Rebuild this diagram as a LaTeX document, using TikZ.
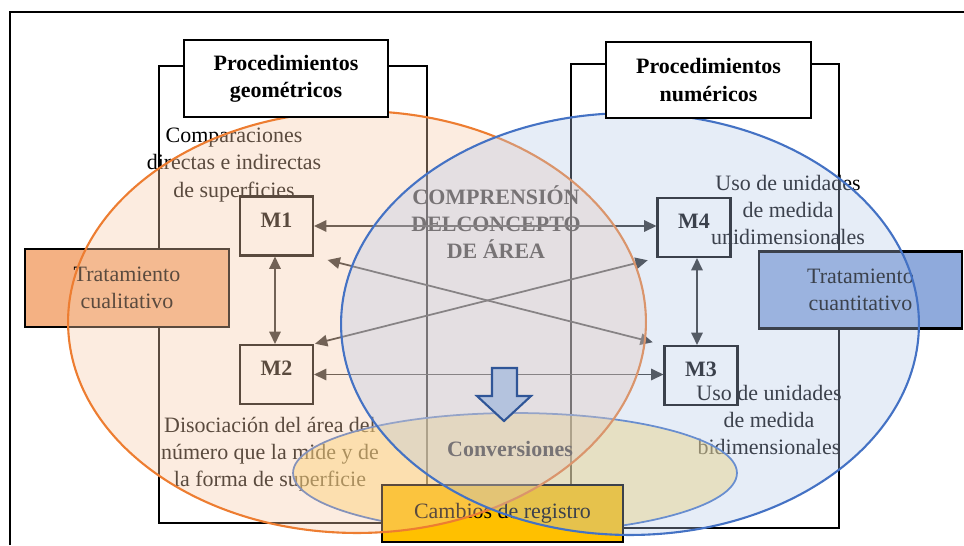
\documentclass[tikz,border=0pt]{standalone}
\usepackage{fontspec}
\setmainfont{Liberation Serif}
\usepackage{xcolor}
\usepackage{tikz}
\usetikzlibrary{arrows.meta}
\definecolor{CQLine}{HTML}{ED7D31}
\definecolor{CQFill}{HTML}{F6CBAA}
\definecolor{CQBox}{HTML}{F4B183}
\definecolor{CNLine}{HTML}{4472C4}
\definecolor{CNFill}{HTML}{B4C7E7}
\definecolor{CNBox}{HTML}{8FAADC}
\definecolor{CVFill}{HTML}{FFD966}
\definecolor{CRBox}{HTML}{FFC000}
\definecolor{BlockFill}{HTML}{B4C3DE}
\definecolor{BlockLine}{HTML}{2F5597}
\definecolor{LinkGray}{HTML}{262626}

\tikzset{
  txt/.style={font=\fontsize{12.5}{15.5}\selectfont,align=center,inner sep=0pt},
  bold/.style={txt,font=\fontsize{12.5}{15.5}\selectfont\bfseries},
  tbox/.style={draw=black,line width=1.2pt,inner sep=0pt,txt},
  mbox/.style={tbox,bold,minimum width=1.46cm,minimum height=1.18cm,text depth=0.25cm},
  link/.style={draw=LinkGray,line width=1pt,{Triangle[length=7pt,width=6.5pt]}-{Triangle[length=7pt,width=6.5pt]}}
}

\begin{document}
\begin{tikzpicture}[x=0.02cm,y=-0.02cm]
\path[use as bounding box] (0,0) rectangle (964,545);
\draw[line width=1.5pt] (10,545) -- (10,12) -- (964,12);
\draw[line width=1.2pt] (159,66) rectangle (427,523);
\draw[line width=1.2pt] (571,64) rectangle (839,528);
\node[tbox,fill=CQBox,minimum width=4.08cm,minimum height=1.56cm] (cuali) at (127,288) {Tratamiento\\cualitativo};
\node[tbox,fill=CNBox,minimum width=4.06cm,minimum height=1.54cm] (cuanti) at (860.5,290) {Tratamiento\\cuantitativo};
\node[txt] (comp) at (234,165) {Comparaciones\\directas e indirectas\\de superficies};
\node[txt] (disoc) at (270,454) {Disociación del área del\\número que la mide y de\\la forma de superficie};
\node[txt] (unid) at (788,210) {Uso de unidades\\de medida\\unidimensionales};
\node[txt] (bidim) at (769,420) {Uso de unidades\\de medida\\bidimensionales};
\node[bold] (centro) at (496,222) {COMPRENSIÓN\\DELCONCEPTO\\DE ÁREA};
\node[mbox] (M1) at (276.5,226) {M1};
\node[mbox] (M2) at (276.5,374.5) {M2};
\node[mbox] (M4) at (694,227.5) {M4};
\node[mbox] (M3) at (701,375.5) {M3};
\draw[link] (M1.east) -- (M4.west |- M1.east);
\draw[link] (M2.east) -- (M3.west |- M2.east);
\draw[link] ([xshift=-0.03cm]M1.south) -- ([xshift=-0.03cm]M2.north);
\draw[link] ([xshift=0.06cm]M4.south) -- ([xshift=-0.08cm]M3.north);
\draw[link,shorten <=0.28cm,shorten >=0.22cm] (M1.south east) -- (M3.north west);
\draw[link,shorten <=0.18cm,shorten >=0.02cm] (M4.south west) -- (M2.north east);
\filldraw[fill=CVFill,fill opacity=.5,draw=CNLine,line width=1pt] (515,473) ellipse [x radius=4.44cm,y radius=1.2cm];
\node[bold] (conv) at (510,449) {Conversiones};
\node[tbox,fill=CRBox,minimum width=4.82cm,minimum height=1.14cm,text depth=0.12cm] (cambios) at (502.5,513.5) {Cambios de registro};
\filldraw[fill=CQFill,fill opacity=.37,draw=CQLine,line width=1.2pt] (357,322) ellipse [x radius=5.78cm,y radius=4.22cm];
\filldraw[fill=CNFill,fill opacity=.33,draw=CNLine,line width=1.2pt] (630,324) ellipse [x radius=5.78cm,y radius=4.22cm];
\node[tbox,bold,fill=white,minimum width=4.08cm,minimum height=1.54cm] (geo) at (286,78.5) {Procedimientos\\geométricos};
\node[tbox,bold,fill=white,minimum width=4.1cm,minimum height=1.52cm] (num) at (708.5,80) {Procedimientos\\numéricos};
\filldraw[fill=BlockFill,draw=BlockLine,line width=1.2pt,line join=miter] (492,368) -- (517,368) -- (517,396) -- (531,396) -- (504,421) -- (477,396) -- (492,396) -- cycle;
\end{tikzpicture}
\end{document}
